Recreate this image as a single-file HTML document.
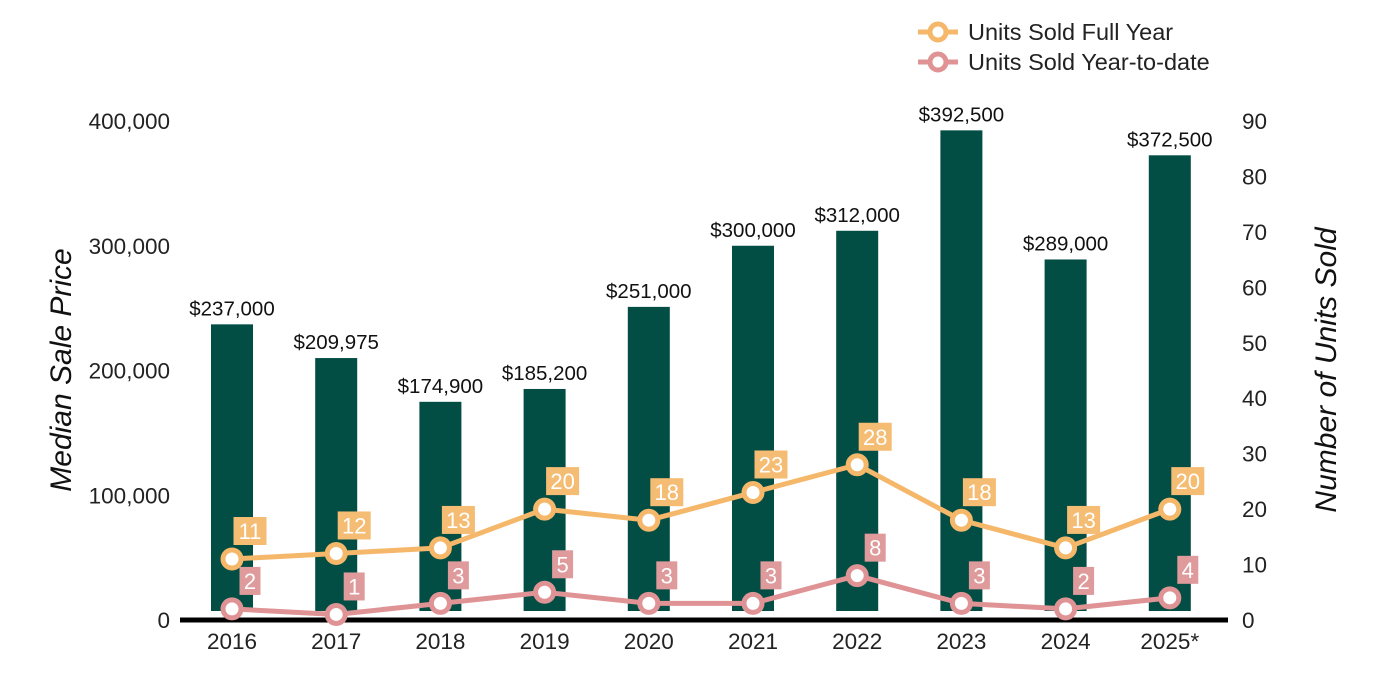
<!DOCTYPE html>
<html><head><meta charset="utf-8"><style>
body{margin:0;background:#fff;}
svg{display:block;font-family:"Liberation Sans",Arial,sans-serif;}
</style></head><body>
<svg id="chart" width="1400" height="700"></svg>
<script>
const categories=["2016","2017","2018","2019","2020","2021","2022","2023","2024","2025*"];
const prices=[237000,209975,174900,185200,251000,300000,312000,392500,289000,372500];
const priceLabels=["$237,000","$209,975","$174,900","$185,200","$251,000","$300,000","$312,000","$392,500","$289,000","$372,500"];
const fullYear=[11,12,13,20,18,23,28,18,13,20];
const ytd=[2,1,3,5,3,3,8,3,2,4];
const leftTicks=[0,100000,200000,300000,400000];
const rightTicks=[0,10,20,30,40,50,60,70,80,90];

const NS="http://www.w3.org/2000/svg";
const svg=document.getElementById('chart');
const y0=620;
const yL=v=>y0-v*(499/400000);
const yR=v=>y0-v*(499/90);
const xC=i=>232+i*104.2;
function el(t,a,txt){const e=document.createElementNS(NS,t);for(const k in a)e.setAttribute(k,a[k]);if(txt!==undefined)e.textContent=txt;svg.appendChild(e);return e;}

leftTicks.forEach(v=>{const t=el('text',{x:170,y:yL(v)+8,'text-anchor':'end','font-size':22.5,fill:'#222'},v.toLocaleString('en-US'));

});
rightTicks.forEach(v=>{const t=el('text',{x:1242,y:yR(v)+8,'font-size':22.5,fill:'#222'},String(v));

});

let t=el('text',{transform:'translate(71,370) rotate(-90)','text-anchor':'middle','font-size':30,'font-style':'italic',fill:'#111'},'Median Sale Price');


t=el('text',{transform:'translate(1336,370) rotate(-90)','text-anchor':'middle','font-size':30,'font-style':'italic',fill:'#111'},'Number of Units Sold');



categories.forEach((c,i)=>{
 const b=el('rect',{x:xC(i)-21,y:yL(prices[i]),width:42,height:611-yL(prices[i]),fill:'#024d44'});
 
 
 const l=el('text',{x:xC(i),y:yL(prices[i])-9,'text-anchor':'middle','font-size':20.5,fill:'#111'},priceLabels[i]);
 
 
 const x=el('text',{x:xC(i),y:649,'text-anchor':'middle','font-size':22.5,fill:'#222'},c);
 
 
});
const ax=el('line',{x1:180,y1:620,x2:1228,y2:620,stroke:'#000','stroke-width':5});



function series(vals,color,boxColor,name){
 const p=el('polyline',{points:vals.map((v,i)=>xC(i)+','+yR(v)).join(' '),fill:'none',stroke:color,'stroke-width':5});
 
 
 vals.forEach((v,i)=>{
  const c=el('circle',{cx:xC(i),cy:yR(v),r:9,fill:'#fff',stroke:color,'stroke-width':5});
  
  
  const w=String(v).length>1?33:21;
  const bx=el('rect',{x:xC(i)+18-w/2,y:yR(v)-42,width:w,height:28,fill:boxColor});
  
  
  const tx=el('text',{x:xC(i)+18,y:yR(v)-20,'text-anchor':'middle','font-size':22,fill:'#fff'},String(v));
  
  
 });
}
series(fullYear,'#f5b76a','#f5bc73','full-year');
series(ytd,'#e09395','#df9a9c','ytd');

[['Units Sold Full Year','#f5b76a',32],['Units Sold Year-to-date','#e09395',62]].forEach(([n,c,y])=>{
 const l=el('line',{x1:918,y1:y,x2:958,y2:y,stroke:c,'stroke-width':5});
 
 
 const ci=el('circle',{cx:938,cy:y,r:8,fill:'#fff',stroke:c,'stroke-width':5});
 
 
 const tx=el('text',{x:968,y:y+8,'font-size':23.5,fill:'#222'},n);
 
 
});
</script>
</body></html>
